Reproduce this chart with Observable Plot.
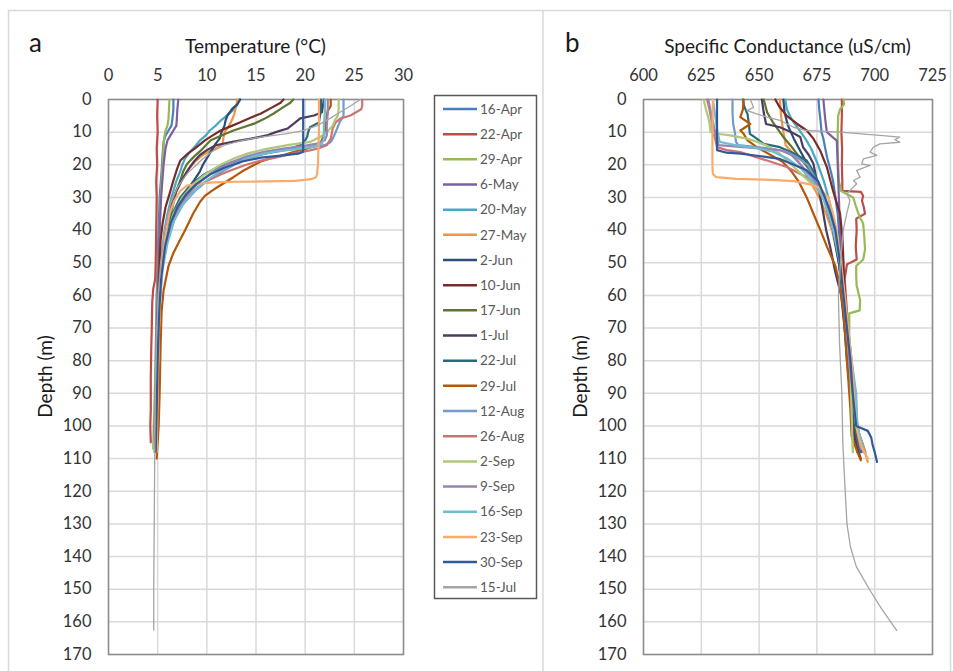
<!DOCTYPE html>
<html><head><meta charset="utf-8">
<script src="https://cdn.jsdelivr.net/npm/d3@7"></script>
<script src="https://cdn.jsdelivr.net/npm/@observablehq/plot@0.6"></script>
<style>
body{margin:0;background:#fff;}
#fig{position:relative;width:953px;height:671px;overflow:hidden;background:#fff;font-family:Lato,"Noto Sans",sans-serif;}
#fig svg{position:absolute;}
</style></head><body><div id="fig"></div>
<script>
// ---------- categories / styling lists ----------
const seriesNames = ["16-Apr","22-Apr","29-Apr","6-May","20-May","27-May","2-Jun","10-Jun","17-Jun","1-Jul","22-Jul","29-Jul","12-Aug","26-Aug","2-Sep","9-Sep","16-Sep","23-Sep","30-Sep","15-Jul"];
const seriesColors = ["#4A7EBB","#BE4B48","#98B954","#7D60A0","#46AAC5","#F69240","#2C4D75","#772C2A","#5F7530","#4D3B62","#276A7C","#B65708","#729ACA","#CD7371","#AFC97A","#9983B5","#6FBDD1","#F9AB6B","#31599A","#A5A5A5"];
const tempTicks = [0,5,10,15,20,25,30];
const condTicks = [600,625,650,675,700,725];
const depthTicks = [0,10,20,30,40,50,60,70,80,90,100,110,120,130,140,150,160,170];

// ---------- temperature profiles [depth m, °C] ----------
const t16Apr = [[0,6.6],[3,6.6],[6,6.5],[8,6.4],[9.5,6.1],[11,5.8],[13,5.6],[17,5.5],[22,5.4],[30,5.2],[40,5.1],[50,5.0],[60,4.9],[70,4.85],[80,4.8],[90,4.75],[100,4.7],[106,4.65]];
const t22Apr = [[0,5.0],[5,4.95],[10,5.0],[15,4.9],[20,4.95],[25,4.85],[30,4.9],[40,4.85],[50,4.8],[55,4.75],[58,4.55],[62,4.45],[70,4.4],[76,4.35],[85,4.3],[95,4.3],[100,4.25],[105,4.3]];
const t29Apr = [[0,6.2],[3,6.15],[6,6.1],[8,6.0],[9.5,5.8],[11,5.7],[14,5.6],[20,5.5],[30,5.3],[40,5.2],[50,5.05],[60,4.95],[70,4.85],[80,4.8],[90,4.7],[100,4.6],[107,4.55]];
const t6May = [[0,7.1],[3,7.0],[6,6.95],[8,6.9],[9.5,6.6],[11,6.3],[12.5,6.0],[15,5.8],[20,5.6],[30,5.35],[40,5.2],[50,5.1],[60,5.0],[70,4.9],[80,4.85],[90,4.8],[100,4.7],[107,4.7]];
const t20May = [[0,13.3],[2,13.0],[3.5,12.6],[5,12.0],[6.5,11.4],[8,10.9],[9.5,10.3],[11,9.9],[12.5,9.3],[14,8.9],[16,8.3],[18,7.8],[20,7.5],[22,7.3],[25,6.9],[30,6.4],[35,6.0],[40,5.7],[50,5.3],[60,5.1],[70,5.0],[80,4.9],[90,4.85],[100,4.75],[107,4.7]];
const t27May = [[0,13.1],[2,13.0],[4.3,12.8],[6,12.6],[8.4,12.2],[10,11.8],[11.5,11.7],[13.5,11.6],[14.5,11.2],[15.6,10.4],[17,9.6],[19,8.8],[22,8.0],[25,7.4],[28,6.9],[32,6.4],[37,6.0],[42,5.7],[50,5.4],[60,5.2],[70,5.1],[80,5.05],[90,5.0],[100,4.9],[108,4.9]];
const t2Jun = [[0,13.4],[1.5,13.1],[2.8,12.6],[4.9,12.1],[6.5,11.9],[8,11.8],[10,11.5],[12,11.3],[13.5,10.9],[15.5,10.5],[17.5,10.1],[20,9.6],[22,9.3],[24.8,8.7],[27,8.2],[30,7.7],[33,7.1],[37,6.5],[42,6.0],[47,5.6],[55,5.3],[65,5.15],[80,5.0],[95,4.9],[107,4.8]];
const t10Jun = [[0,17.8],[1,17.5],[2.5,16.6],[4.3,15.5],[5.5,14.5],[7,13.4],[8,12.6],[9.5,11.4],[11,10.6],[12.5,9.8],[13.5,9.4],[15,8.8],[16.5,8.1],[18.7,7.3],[21,7.0],[24.8,6.6],[29,6.2],[33,5.8],[38,5.5],[43,5.3],[50,5.2],[60,5.1],[70,5.0],[85,4.9],[100,4.8],[106,4.8]];
const t17Jun = [[0,18.8],[1,18.5],[2.5,17.7],[4.3,16.8],[6,15.8],[7.4,14.8],[8.5,13.7],[9.5,12.7],[11,11.5],[12.5,10.4],[14,9.9],[15.6,9.4],[17.5,8.7],[19.7,8.0],[22,7.6],[24.8,7.3],[28,6.9],[33,6.5],[38,6.1],[42,5.8],[50,5.45],[60,5.2],[70,5.05],[85,4.95],[100,4.85],[106,4.8]];
const t1Jul = [[0,21.9],[2,21.8],[3.9,21.7],[4.9,20.9],[5.8,19.5],[7,19.0],[8.9,18.2],[10,17.0],[11,16.1],[12,14.5],[13,12.6],[14,10.9],[15.5,10.0],[17,9.3],[19,8.7],[21,8.2],[24,7.6],[28,6.9],[33,6.3],[40,5.8],[50,5.4],[60,5.2],[75,5.0],[90,4.9],[105,4.8]];
const t22Jul = [[0,21.6],[3,21.6],[5,21.5],[7,21.4],[8.5,20.5],[10,20.3],[11.5,20.2],[13,19.9],[14,19.5],[15,18.5],[15.6,17.5],[16.8,15.5],[18,13.8],[19.5,12.3],[21,11.0],[23,9.7],[26,8.4],[30,7.3],[35,6.5],[42,5.9],[50,5.5],[60,5.25],[75,5.05],[90,4.95],[106,4.85]];
const t29Jul = [[0,22.6],[2,22.6],[3.5,22.3],[5,22.2],[8,22.1],[11,21.9],[13,21.6],[14,21.2],[15,20.2],[16.1,18.8],[17,17.8],[17.7,16.8],[19,15.5],[20.7,14.4],[22,13.6],[23.8,12.7],[25.5,11.8],[26.8,11.1],[28,10.5],[29.5,9.8],[31.4,9.3],[35,8.6],[40,7.8],[44,7.1],[47,6.6],[51,6.1],[58.5,5.6],[65,5.4],[75,5.3],[90,5.2],[100,5.1],[110,4.9]];
const t12Aug = [[0,23.9],[3,23.9],[5,23.9],[7,23.5],[10,23.1],[12,22.8],[13,22.6],[14,22.0],[14.8,20.0],[15.5,18.0],[16.5,16.0],[18,14.3],[20,12.8],[22,11.6],[25,10.0],[28,8.8],[32,7.6],[37,6.6],[44,5.9],[52,5.4],[65,5.15],[80,5.0],[95,4.9],[108,4.8]];
const t26Aug = [[0,25.8],[2,25.8],[3,25.7],[4.2,25.0],[4.9,24.6],[5.8,23.6],[7,23.1],[8.9,22.8],[10.5,22.7],[12,22.6],[14,22.2],[15,21.3],[15.6,20.5],[16.5,18.8],[17.7,17.2],[18.7,15.5],[20,14.0],[21.5,12.6],[23,11.4],[25,10.0],[27,9.0],[30,7.9],[35,6.9],[42,6.0],[50,5.45],[60,5.2],[75,5.0],[90,4.9],[100,4.8],[107,4.8]];
const t2Sep = [[0,23.4],[3,23.4],[5,23.3],[6.5,23.0],[8,22.8],[10,22.2],[11.5,21.5],[13,20.5],[14,18.2],[15.1,16.1],[16.5,14.2],[18,12.8],[20,11.4],[23,9.8],[26,8.6],[30,7.5],[35,6.6],[42,5.9],[50,5.45],[60,5.15],[75,4.95],[90,4.85],[100,4.75],[108,4.65]];
const t9Sep = [[0,22.3],[4,22.3],[8,22.2],[11,22.2],[12.5,22.0],[13.5,21.2],[14.3,19.8],[15,17.8],[16,15.8],[17.5,14.0],[19,12.7],[21,11.3],[24,9.8],[27,8.6],[31,7.5],[36,6.6],[43,5.9],[50,5.5],[60,5.2],[75,5.0],[90,4.9],[100,4.8],[107,4.75]];
const t16Sep = [[0,22.0],[4,22.0],[8,21.9],[12,21.9],[13.5,21.7],[14.5,20.8],[15.2,19.0],[16,16.8],[17,15.2],[18.5,13.7],[20,12.6],[22,11.3],[25,9.9],[28,8.7],[32,7.6],[37,6.7],[44,6.0],[52,5.5],[65,5.15],[80,5.0],[95,4.9],[108,4.8]];
const t23Sep = [[0,21.4],[5,21.4],[10,21.4],[15,21.35],[20,21.3],[23,21.2],[23.8,21.1],[24.4,20.6],[24.9,19.0],[25.1,16.0],[25.2,13.0],[25.4,10.7],[25.8,9.2],[26.4,8.0],[28,7.3],[31,6.7],[35,6.2],[42,5.75],[50,5.45],[60,5.25],[75,5.1],[90,5.0],[100,4.95],[108,4.9]];
const t30Sep = [[0,19.8],[4,19.8],[8,19.8],[12,19.8],[16,19.8],[16.6,19.3],[17.2,17.5],[17.8,15.5],[19,13.6],[21,11.7],[23,10.3],[26,8.9],[29,7.9],[33,7.0],[38,6.3],[45,5.75],[55,5.35],[65,5.15],[80,5.0],[95,4.9],[108,4.8]];
const t15Jul = [[0,25.6],[2,24.6],[4,23.5],[6,22.4],[8,21.2],[9.5,19.8],[10.5,18.0],[11.5,15.5],[12.5,13.6],[14,11.8],[16,10.5],[18.7,9.4],[22.7,8.0],[27,7.0],[32,6.3],[40,5.7],[50,5.3],[60,5.05],[75,4.85],[90,4.75],[110,4.7],[130,4.65],[150,4.6],[162.5,4.6]];

// ---------- specific conductance profiles [depth m, uS/cm] ----------
const c16Apr = [[0,675.7],[3,676],[6,676.5],[10,677],[12,677.8],[14.6,678.5],[18,679.5],[22,681],[25,682],[30,683],[35,684],[45,685],[55,686],[65,687],[75,688.5],[85,690],[95,691],[100,692],[104,694],[108,696]];
const c22Apr = [[0,685.8],[5,685.8],[10,685.6],[15,685.9],[20,685.8],[25,686],[28,686],[28.3,694],[29.5,695],[31,694.5],[33,695.3],[35,695.8],[36.5,692],[40,692.2],[45,691.8],[49,692.2],[50.5,688],[55,687],[65,688],[75,689],[85,690.5],[95,691.5],[102,693],[106,695]];
const c29Apr = [[0,686.5],[1.5,686.8],[3,685],[5,684.2],[10,684],[15,684],[20,684.2],[25,684.5],[28,685.5],[30,690.7],[33,692],[36,693.5],[38,695],[42,695.5],[46,695.8],[49,695],[51,692],[54,692],[57,692.2],[61.5,693.7],[64.6,693.5],[65.5,689],[75,689],[85,690],[95,690.5],[103,690.4],[108,690.6]];
const c6May = [[0,677.8],[3,678.2],[6,678.6],[10,679.3],[11.5,681.8],[12.6,683.6],[16,683.8],[20,684],[30,684.5],[40,685],[50,685.5],[60,686.5],[70,687.5],[80,689],[90,690],[100,691.5],[107,693]];
const c20May = [[0,661.3],[3,662],[6,664],[9,667],[12,670],[15,672.5],[20,675.5],[25,678],[30,680],[35,681.5],[40,683],[50,685],[60,687],[70,688],[80,689.5],[90,691],[100,692.5],[108,695]];
const c27May = [[0,659],[5,659.5],[10,660.5],[14,661.5],[16,664],[20,668],[25,672],[30,676],[35,679],[40,681.5],[50,684.5],[60,686.5],[70,688],[80,689.5],[90,690.5],[100,692],[106,695],[111,697]];
const c2Jun = [[0,660.5],[4,661],[8,662.5],[12,665],[16,668],[20,671],[25,675],[30,678],[35,680],[40,682],[50,684.5],[60,686],[70,687],[80,688.5],[90,690],[100,691.5],[108,694]];
const c10Jun = [[0,657],[2.5,659],[5,662],[7.5,666.5],[9.5,670.6],[12,673.5],[15.6,676.4],[20.7,679.3],[28,682],[35,685],[42,686],[50,686.5],[60,687],[70,688],[80,689],[90,690],[100,690.5],[106,692],[110,694]];
const c17Jun = [[0,652],[4,653.5],[7,656],[9,658],[11.5,660.5],[14,663.5],[16.6,666.3],[19,669],[21.7,672],[25,674.5],[28,676.4],[33,679.5],[38,682],[45,684],[52,685],[60,686.5],[70,687.5],[80,688.5],[90,690],[100,691],[106,693]];
const c1Jul = [[0,651.2],[4,652],[7.5,653],[8.5,659],[10,664],[11.5,667.8],[14.6,669],[17,671.5],[19.7,673.5],[25,675],[30,676.5],[35,677.8],[40,679],[45,680.7],[53,683],[60,685.5],[70,687],[80,688],[90,689.5],[100,690.5],[108,692.5]];
const c22Jul = [[0,643],[2,643.5],[4.5,645],[7,645.5],[10.5,646],[12,649],[13.6,652],[14.6,659],[16.5,665],[18.7,670.6],[22,673.5],[26,676],[30,678],[35,680],[40,682],[50,684.5],[60,686.5],[70,688],[80,689],[90,690],[100,691.5],[108,694]];
const c29Jul = [[0,643.3],[3,643],[5.4,641.9],[7.5,646.2],[9.5,641.9],[10.5,643.3],[12.5,645],[14.6,649],[17,655],[19,660],[22,664],[25,667],[30,670.6],[35,673.5],[40,676.5],[45,679.3],[51,683],[57,685],[65,686.5],[75,687.5],[85,688.5],[95,689.5],[103,690],[108,692.5],[110.5,694]];
const c12Aug = [[0,638.5],[4,638.5],[7.5,638.8],[10,639.5],[13,640],[14,641],[14.5,648],[15,655],[16,662],[18,667],[20,671],[25,675],[30,678],[35,680.5],[40,682.5],[50,685],[60,687],[70,688.5],[80,690],[90,691.5],[100,692.5],[108,695]];
const c26Aug = [[0,627.5],[3,628.5],[6,629.3],[10,630],[12,631],[14.6,631.8],[15.5,636],[16.1,641.9],[17.5,648],[18.7,653.4],[20.7,662],[23.8,670.6],[26,675],[30,678],[35,680.5],[40,682.5],[50,685],[60,687],[70,688],[80,689.5],[90,690.5],[100,692],[107,695]];
const c2Sep = [[0,626],[3,627],[5,627.8],[7,628.5],[10,629],[10.5,631.8],[11,637.5],[12,644.8],[12.6,647.6],[14,653],[16.6,659],[20,664],[24,670],[28,676],[32,679],[38,681.5],[45,684],[55,686],[65,687.5],[75,688.5],[85,689.5],[95,690],[103,690.3],[108,690.6]];
const c9Sep = [[0,628],[5,629.5],[10,631],[14,632.5],[15,650],[15.5,659],[17,664],[20,668],[24,673],[28,677],[33,680],[40,682.5],[50,685],[60,686.5],[70,688],[80,689],[90,690.5],[100,692],[107,694]];
const c16Sep = [[0,630],[5,631],[10,632],[13,633],[14,640],[15,650],[16,656],[18,662],[21,668],[25,673],[30,677.5],[35,680],[40,682],[50,685],[60,686.5],[70,688.5],[80,690],[90,692],[100,692.5],[107,695]];
const c23Sep = [[0,630],[10,629.8],[20,629.8],[22.8,630],[23.8,631.5],[24.3,640],[24.6,655],[25,665],[26,672],[27,676],[30,680],[35,682],[40,683.5],[50,685.5],[60,687],[70,688.5],[80,690],[90,691],[100,692],[106,694],[110,697]];
const c30Sep = [[0,631.8],[5,631.8],[10,631.8],[15.5,631.8],[16.3,636],[16.6,641.9],[17.3,650],[18.2,659],[20,665],[21.7,670.6],[25,675.5],[30,678.5],[35,681],[40,683],[50,685],[60,686.5],[70,688],[80,689.5],[90,690.5],[100,692],[101.5,697],[103.5,698.5],[105.5,699],[108,700],[111,701]];
const c15Jul = [[0,646.2],[2.4,647.6],[3.4,644.8],[4.4,649],[5.4,653.4],[6.4,659.1],[8.5,664.9],[9.5,670.6],[10,685],[11,702.3],[11.5,710.9],[12.3,708.8],[13.1,710.9],[13.6,702.3],[14.6,699.4],[16.1,698],[17.1,700.9],[18.2,695.1],[19.7,694.4],[20.2,698],[21.7,692.2],[23.8,693.7],[24.8,690.8],[25.8,692.2],[28.9,687.9],[30.9,689.3],[35,687.9],[40,686.4],[50,685.2],[60,684.3],[75,684.8],[90,685.8],[105,686.2],[116.7,687],[130,688],[137,689.5],[143,692],[150.4,698],[156,703],[162.6,709.5]];

const tempProfiles = [t16Apr,t22Apr,t29Apr,t6May,t20May,t27May,t2Jun,t10Jun,t17Jun,t1Jul,t22Jul,t29Jul,t12Aug,t26Aug,t2Sep,t9Sep,t16Sep,t23Sep,t30Sep,t15Jul];
const condProfiles = [c16Apr,c22Apr,c29Apr,c6May,c20May,c27May,c2Jun,c10Jun,c17Jun,c1Jul,c22Jul,c29Jul,c12Aug,c26Aug,c2Sep,c9Sep,c16Sep,c23Sep,c30Sep,c15Jul];

function toRows(profiles){
  return seriesNames.flatMap((name,i)=>profiles[i].map(([d,v])=>({series:name, depth:d, value:v})));
}

const fig = document.getElementById("fig");
const FONT = "Lato, 'Noto Sans', sans-serif";

function panel(profiles, domain, ticks, width, mLeft, mRight){
  const rows = toRows(profiles);
  const main = rows.filter(r=>r.series!=="15-Jul");
  const gray = rows.filter(r=>r.series==="15-Jul");
  return Plot.plot({
    width, height: 671,
    marginLeft: mLeft, marginRight: mRight, marginTop: 99, marginBottom: 17,
    style: {fontFamily: FONT, fontSize: "16.5px", color: "#333", background: "transparent", maxWidth: "none", overflow: "visible"},
    x: {domain},
    y: {domain: [0,170], reverse: true},
    color: {domain: seriesNames, range: seriesColors},
    marks: [
      Plot.gridX(ticks, {stroke: "#d9d9d9", strokeOpacity: 1, strokeWidth: 1.5}),
      Plot.gridY(depthTicks, {stroke: "#d9d9d9", strokeOpacity: 1, strokeWidth: 1.5}),
      Plot.axisX(ticks, {anchor: "top", tickSize: 0, tickPadding: 19, label: null, fontSize: 16.5, fill: "#333"}),
      Plot.axisY(depthTicks, {anchor: "left", tickSize: 0, tickPadding: 17, label: null, fontSize: 16.5, fill: "#333"}),
      Plot.frame({stroke: "#8c8c8c", strokeWidth: 1.5}),
      Plot.line(main, {x: "value", y: "depth", z: "series", stroke: "series", strokeWidth: 2.2, strokeLinejoin: "round"}),
      Plot.line(gray, {x: "value", y: "depth", z: "series", stroke: "series", strokeWidth: 1.3, strokeLinejoin: "round"})
    ]
  });
}

const pa = panel(tempProfiles, [0,30], tempTicks, 430, 108, 27);
pa.style.left = "0px"; pa.style.top = "0px";
fig.appendChild(pa);
const pb = panel(condProfiles, [600,725], condTicks, 410, 100, 21);
pb.style.left = "543px"; pb.style.top = "0px";
fig.appendChild(pb);

// ---------- overlay: frame, titles, legend ----------
const ov = d3.select(fig).append("svg")
  .attr("width", 953).attr("height", 671)
  .style("left","0px").style("top","0px").style("pointer-events","none")
  .style("font-family", FONT);

ov.append("rect").attr("x",8.5).attr("y",10.5).attr("width",942).attr("height",700)
  .attr("fill","none").attr("stroke","#d9d9d9").attr("stroke-width",1.5);
ov.append("line").attr("x1",543).attr("x2",543).attr("y1",10.5).attr("y2",671)
  .attr("stroke","#d9d9d9").attr("stroke-width",1.5);

const titles = [
  {t:"a", x:29, y:52, size:26, anchor:"start"},
  {t:"b", x:565, y:52, size:26, anchor:"start"},
  {t:"Temperature (°C)", x:255.5, y:53, size:19, anchor:"middle"},
  {t:"Specific Conductance (uS/cm)", x:787.5, y:53, size:19, anchor:"middle"}
];
titles.forEach(d=>ov.append("text").attr("x",d.x).attr("y",d.y).attr("font-size",d.size)
  .attr("text-anchor",d.anchor).attr("fill","#1a1a1a").text(d.t));
[45, 580].forEach(cx=>ov.append("text")
  .attr("transform",`translate(${cx},376.5) rotate(-90)`)
  .attr("text-anchor","middle").attr("dy","0.35em").attr("font-size",19).attr("fill","#1a1a1a")
  .text("Depth (m)"));

// legend
const lg = ov.append("g");
lg.append("rect").attr("x",434.5).attr("y",95.5).attr("width",102).attr("height",503)
  .attr("fill","#fff").attr("stroke","#595959").attr("stroke-width",1.5);
seriesNames.forEach((n,i)=>{
  const y = 109 + i*25.17;
  lg.append("line").attr("x1",443).attr("x2",477).attr("y1",y).attr("y2",y)
    .attr("stroke",seriesColors[i]).attr("stroke-width",2.5);
  lg.append("text").attr("x",480).attr("y",y).attr("dy","0.35em").attr("font-size",13.5)
    .attr("fill","#595959").text(n);
});
</script></body></html>
